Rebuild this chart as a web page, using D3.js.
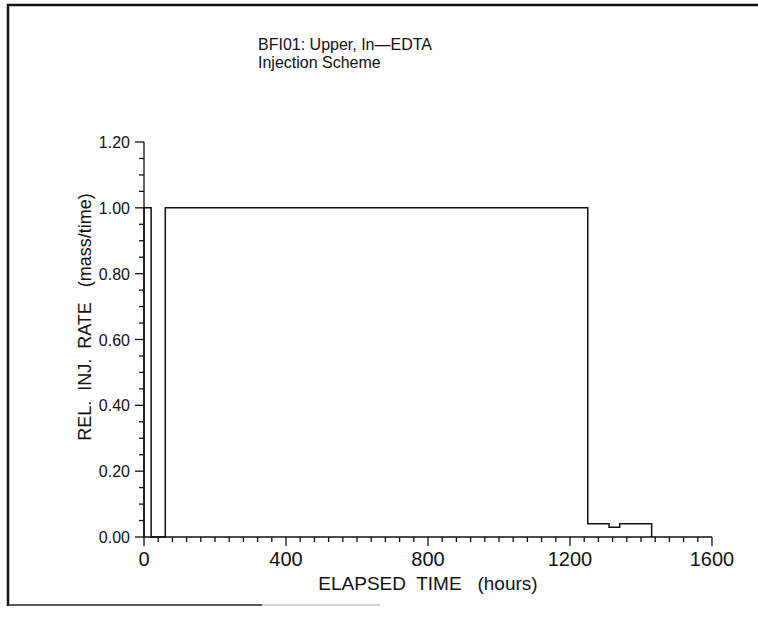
<!DOCTYPE html>
<html><head><meta charset="utf-8">
<script src="https://cdn.jsdelivr.net/npm/d3@7"></script>
<style>body{margin:0;background:#fff}svg{display:block}text{font-family:"Liberation Sans",Arial,sans-serif;fill:#111}</style>
</head><body><svg id="c" width="758" height="618"></svg>
<script>
// Step series: time (hours) and relative injection rate
const stepTimes = [0, 0, 20, 20, 60, 60, 1250, 1250, 1310, 1310, 1340, 1340, 1430, 1430];
const stepRates = [0, 1.0, 1.0, 0, 0, 1.0, 1.0, 0.04, 0.04, 0.03, 0.03, 0.04, 0.04, 0];
const xTickValues = [0, 400, 800, 1200, 1600];
const yTickValues = [0, 0.2, 0.4, 0.6, 0.8, 1.0, 1.2];
const titleLines = ["BFI01: Upper, In\u2014EDTA", "Injection Scheme"];
const xTitle = "ELAPSED  TIME   (hours)";
const yTitle = "REL.  INJ.  RATE   (mass/time)";

const svg = d3.select("#c");
const x = d3.scaleLinear().domain([0, 1600]).range([144, 712]);
const y = d3.scaleLinear().domain([0, 1.2]).range([537, 142]);

// frame
svg.append("path").attr("d","M8,606 L8,5 L758,5").attr("fill","none").attr("stroke","#111").attr("stroke-width",2.5);
svg.append("line").attr("x1",8).attr("x2",262).attr("y1",605).attr("y2",605).attr("stroke","#222").attr("stroke-width",1.5);
svg.append("line").attr("x1",262).attr("x2",380).attr("y1",605).attr("y2",605).attr("stroke","#aaa").attr("stroke-width",1);

// title
titleLines.forEach((t,i)=>svg.append("text").attr("x",258).attr("y",50+i*18).attr("font-size",16).text(t));

// x axis
const xMinor = d3.range(0, 1601, 40);
const gx = svg.append("g").attr("stroke","#111").attr("stroke-width",1.3);
gx.append("line").attr("x1",x(0)).attr("x2",x(1600)).attr("y1",y(0)).attr("y2",y(0));
xMinor.forEach(v=>{
  const major = xTickValues.includes(v);
  gx.append("line").attr("x1",x(v)).attr("x2",x(v)).attr("y1",y(0)).attr("y2",y(0)+(major?9:5));
});
svg.append("g").selectAll("text").data(xTickValues).join("text")
  .attr("x",d=>x(d)).attr("y",566).attr("text-anchor","middle").attr("font-size",20).text(d=>d);
svg.append("text").attr("x",428).attr("y",590).attr("text-anchor","middle").attr("font-size",19).style("white-space","pre").text(xTitle);

// y axis
const yMinor = d3.range(0, 25).map(i=>i*0.05);
const gy = svg.append("g").attr("stroke","#111").attr("stroke-width",1.3);
gy.append("line").attr("x1",x(0)).attr("x2",x(0)).attr("y1",y(0)).attr("y2",y(1.2));
yMinor.forEach((v,i)=>{
  const major = i%4===0;
  gy.append("line").attr("x1",x(0)-(major?9:5)).attr("x2",x(0)).attr("y1",y(v)).attr("y2",y(v));
});
svg.append("g").selectAll("text").data(yTickValues).join("text")
  .attr("x",130).attr("y",d=>y(d)+6).attr("text-anchor","end").attr("font-size",16).text(d=>d.toFixed(2));
svg.append("text").attr("transform","translate(91,317) rotate(-90)").attr("text-anchor","middle").attr("font-size",18).style("white-space","pre").text(yTitle);

// data
const pts = stepTimes.map((t,i)=>[t, stepRates[i]]);
svg.append("path").datum(pts)
  .attr("d", d3.line().x(d=>x(d[0])).y(d=>y(d[1])))
  .attr("fill","none").attr("stroke","#111").attr("stroke-width",1.5);
</script></body></html>
